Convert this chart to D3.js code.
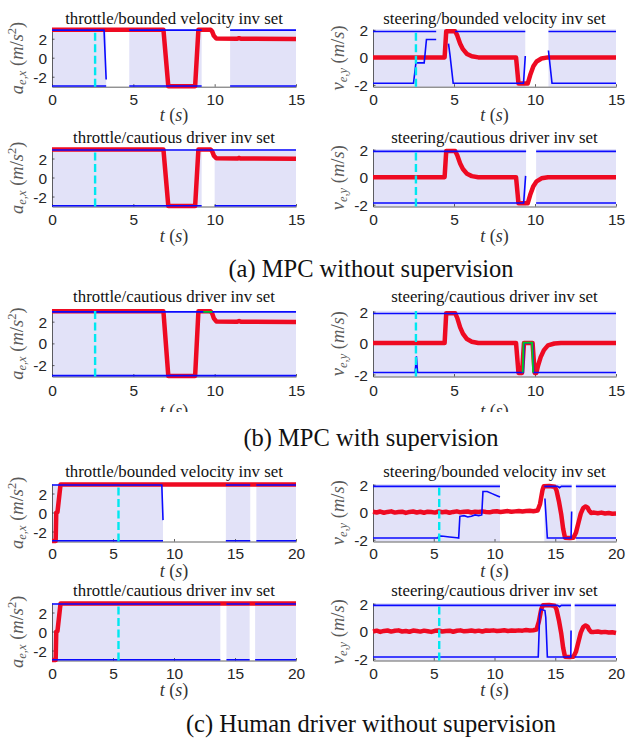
<!DOCTYPE html>
<html><head><meta charset="utf-8">
<script src="https://cdn.jsdelivr.net/npm/d3@7"></script>
<style>body{margin:0;background:#fff}svg{display:block}</style>
</head><body>
<svg id="c" width="640" height="740"></svg>
<script>
// ---------------- DATA ----------------
const xTicks15 = [0, 5, 10, 15];
const xTicks20 = [0, 5, 10, 15, 20];
const yTicks = [-2, 0, 2];

const titles = [
  "throttle/bounded velocity inv set", "steering/bounded velocity inv set",
  "throttle/cautious driver inv set", "steering/cautious driver inv set",
  "throttle/cautious driver inv set", "steering/cautious driver inv set",
  "throttle/bounded velocity inv set", "steering/bounded velocity inv set",
  "throttle/cautious driver inv set", "steering/cautious driver inv set"
];
const captions = ["(a) MPC without supervision", "(b) MPC with supervision", "(c) Human driver without supervision"];

// shaded (invariant-set available) intervals [t0, t1]
const shadeA1 = [[0, 3.33], [4.75, 9.2], [10.95, 15]];
const shadeA2 = [[0, 9.4], [10.83, 15]];
const shadeA3 = [[0, 9.2], [10.0, 15]];
const shadeA4 = [[0, 9.45], [10.07, 15]];
const shadeB5 = [[0, 15]];
const shadeB6 = [[0, 15]];
const shadeC7 = [[0, 9.1], [14.25, 16.25], [16.75, 20]];
const shadeC8 = [[0, 10.45], [14.1, 16.35], [16.7, 20]];
const shadeC9 = [[0, 13.8], [14.3, 16.2], [16.65, 20]];
const shadeC10 = [[0, 16.3], [16.6, 20]];

// blue bound lines [t, value], null = gap
const upperA1 = [[0, 2.9], [3.2, 2.9], [3.33, -2.3], [3.33, null], [4.75, 2.9], [9.2, 2.9], [9.2, null], [10.95, 2.9], [15, 2.9]];
const lowerA1 = [[0, -2.97], [3.33, -2.97], [3.33, null], [4.75, -2.97], [9.2, -2.97], [9.2, null], [10.95, -2.97], [15, -2.97]];
const upperA2 = [[0, 1.88], [3.9, 1.88], [3.9, null], [5.07, 1.88], [9.4, 1.88], [9.4, null], [10.83, 1.88], [15, 1.88]];
const lowerA2 = [[0, -1.88], [2.5, -1.88], [2.65, -0.4], [3.16, -0.4], [3.3, 1.3], [3.9, 1.3], [3.9, null], [4.66, 1.0], [4.75, 0.2], [4.95, -1.88], [9.29, -1.88], [9.4, 0.1], [9.4, null], [10.83, 0.5], [11.05, -1.88], [15, -1.88]];
const upperA3 = [[0, 2.9], [15, 2.9]];
const lowerA3 = [[0, -2.97], [9.2, -2.97], [9.2, null], [10.0, -2.97], [15, -2.97]];
const upperA4 = [[0, 1.88], [9.45, 1.88], [9.45, null], [10.07, 1.88], [15, 1.88]];
const lowerA4 = [[0, -1.88], [9.3, -1.88], [9.42, 0.1], [9.42, null], [10.07, -1.88], [15, -1.88]];
const upperB5 = [[0, 2.9], [15, 2.9]];
const lowerB5 = [[0, -2.97], [15, -2.97]];
const upperB6 = [[0, 1.88], [15, 1.88]];
const lowerB6 = [[0, -1.88], [2.6, -1.88], [2.68, -0.85], [2.75, -1.88], [9.28, -1.88], [9.33, 0], [9.85, 0], [9.92, -1.88], [15, -1.88]];
const upperC7 = [[0, 2.9], [9.0, 2.9], [9.1, -0.8], [9.1, null], [14.25, 2.9], [16.25, 2.9], [16.25, null], [16.75, 2.9], [20, 2.9]];
const lowerC7 = [[0, -2.97], [9.1, -2.97], [9.1, null], [14.25, -2.97], [16.25, -2.97], [16.25, null], [16.75, -2.97], [20, -2.97]];
const upperC8 = [[0, 1.88], [10.45, 1.88], [10.45, null], [14.1, 1.88], [15.2, 1.88], [15.35, 1.78], [15.5, 1.88], [16.35, 1.88], [16.35, null], [16.7, 1.88], [20, 1.88]];
const lowerC8 = [[0, -1.88], [5.35, -1.88], [5.42, -1.72], [5.8, -1.75], [6.3, -1.8], [6.9, -1.86], [7.05, -1.88], [7.15, -0.3], [7.5, -0.25], [7.8, -0.35], [8.1, -0.3], [8.4, -0.2], [8.7, -0.25], [8.95, -0.2], [9.05, 1.5], [9.4, 1.5], [9.8, 1.35], [10.2, 1.2], [10.45, 1.1], [10.45, null], [14.15, 1.0], [14.35, -1.88], [16.3, -1.88], [16.35, 0.05], [16.35, null], [16.7, -1.88], [20, -1.88]];
const upperC9 = [[0, 2.9], [13.8, 2.9], [13.8, null], [14.3, 2.9], [16.2, 2.9], [16.2, null], [16.65, 2.9], [20, 2.9]];
const lowerC9 = [[0, -2.97], [13.8, -2.97], [13.8, null], [14.3, -2.97], [16.2, -2.97], [16.2, null], [16.65, -2.97], [20, -2.97]];
const upperC10 = [[0, 1.88], [15.2, 1.88], [15.35, 1.78], [15.5, 1.88], [16.3, 1.88], [16.3, null], [16.6, 1.88], [20, 1.88]];
const lowerC10 = [[0, -1.88], [13.6, -1.88], [13.72, 1.25], [13.8, 1.6], [14.15, 1.5], [14.22, 1.0], [14.35, -1.88], [16.28, -1.88], [16.3, 0.05], [16.3, null], [16.6, -1.88], [20, -1.88]];

// red input traces
const redThrottleMPC = [[0, 2.95], [6.85, 2.95], [7.15, -3.0], [8.8, -3.0], [9.0, 2.95], [9.75, 2.95], [9.85, 2.75], [9.95, 2.3], [10.1, 2.02], [11.4, 2.0], [11.5, 2.06], [11.6, 2.0], [15, 1.98]];
const redSteerMPC = [[0, 0], [4.42, 0], [4.52, 1.9], [5.07, 1.9], [5.2, 1.6], [5.38, 1.0], [5.55, 0.6], [5.8, 0.25], [6.1, 0.08], [6.5, 0], [8.83, 0], [8.98, -1.9], [9.55, -1.9], [9.7, -1.3], [9.9, -0.65], [10.1, -0.3], [10.4, -0.08], [10.8, 0], [15, 0]];
const redSteerSup = [[0, 0], [4.42, 0], [4.52, 1.9], [5.07, 1.9], [5.2, 1.6], [5.38, 1.0], [5.55, 0.6], [5.8, 0.25], [6.1, 0.08], [6.5, 0], [8.83, 0], [8.98, -1.9], [9.2, -1.9], [9.32, 0], [9.85, 0], [9.98, -1.9], [10.08, -1.9], [10.2, -1.4], [10.35, -0.9], [10.55, -0.45], [10.8, -0.15], [11.2, -0.03], [11.6, 0], [15, 0]];
const redThrottleHuman = [[0, -3.0], [0.3, -3.0], [0.35, 0], [0.45, 0.05], [0.7, 2.95], [20, 2.95]];
const redSteerHumanBV = [[0, 0.03], [0.3, -0.02], [0.6, 0.05], [0.9, -0.04], [1.2, 0.02], [1.5, 0.06], [1.8, -0.03], [2.1, 0.01], [2.4, 0.04], [2.7, -0.05], [3.0, 0.02], [3.3, 0.05], [3.6, -0.02], [3.9, 0.03], [4.2, -0.04], [4.5, 0.04], [4.8, 0.01], [5.1, -0.03], [5.4, 0.05], [5.7, 0.0], [6.0, 0.03], [6.3, -0.04], [6.6, 0.02], [6.9, 0.06], [7.2, -0.01], [7.5, 0.03], [7.8, 0.05], [8.1, -0.02], [8.4, 0.04], [8.7, 0.01], [9.0, 0.06], [9.3, 0.02], [9.6, -0.01], [9.9, 0.05], [10.2, 0.07], [10.5, 0.02], [10.8, 0.05], [11.1, 0.08], [11.4, 0.03], [11.7, 0.06], [12.0, 0.09], [12.3, 0.05], [12.6, 0.08], [12.9, 0.1], [13.2, 0.07], [13.55, 0.12], [13.75, 0.6], [13.95, 1.6], [14.05, 1.88], [14.5, 1.9], [14.95, 1.85], [15.1, 1.6], [15.3, 0.8], [15.5, -0.2], [15.65, -1.2], [15.8, -1.85], [16.2, -1.88], [16.5, -1.85], [16.7, -1.5], [16.9, -0.8], [17.1, -0.1], [17.3, 0.3], [17.5, 0.42], [17.65, 0.35], [17.8, 0.1], [17.95, -0.05], [18.2, -0.03], [18.5, -0.07], [18.8, -0.03], [19.1, -0.09], [19.4, -0.06], [19.7, -0.11], [20, -0.1]];
const redSteerHumanCD = [[0, -0.02], [0.3, 0.04], [0.6, -0.05], [0.9, 0.02], [1.2, 0.05], [1.5, -0.03], [1.8, 0.03], [2.1, 0.06], [2.4, -0.02], [2.7, 0.01], [3.0, -0.04], [3.3, 0.05], [3.6, 0.02], [3.9, -0.03], [4.2, 0.04], [4.5, 0.0], [4.8, -0.05], [5.1, 0.03], [5.4, 0.05], [5.7, -0.02], [6.0, 0.02], [6.3, 0.04], [6.6, -0.04], [6.9, 0.03], [7.2, 0.06], [7.5, -0.01], [7.8, 0.02], [8.1, 0.05], [8.4, 0.0], [8.7, 0.04], [9.0, -0.02], [9.3, 0.05], [9.6, 0.03], [9.9, 0.06], [10.2, 0.01], [10.5, 0.04], [10.8, 0.07], [11.1, 0.02], [11.4, 0.05], [11.7, 0.03], [12.0, 0.06], [12.3, 0.04], [12.6, 0.08], [12.9, 0.05], [13.2, 0.07], [13.45, 0.12], [13.65, 0.7], [13.85, 1.6], [13.98, 1.88], [14.5, 1.9], [14.95, 1.85], [15.1, 1.6], [15.3, 0.8], [15.5, -0.2], [15.65, -1.2], [15.8, -1.85], [16.2, -1.88], [16.5, -1.85], [16.7, -1.5], [16.9, -0.8], [17.1, -0.1], [17.3, 0.3], [17.5, 0.42], [17.65, 0.35], [17.8, 0.1], [17.95, -0.05], [18.2, -0.05], [18.5, -0.02], [18.8, -0.08], [19.1, -0.05], [19.4, -0.1], [19.7, -0.08], [20, -0.13]];

// green (supervised) traces
const greenB5 = [[9.3, 2.9], [9.85, 2.9]];
const greenB6 = [[9.24, -1.88], [9.29, 0.03], [9.82, 0.03], [9.88, -1.88]];

// cyan dashed marker times
const cyanMPC = 2.65;
const cyanHuman = 5.45;

// ---------------- LAYOUT ----------------
const cols = [[52, 296], [373, 616]];
const rows = [[29.2, 86.7], [149, 206.5], [310.8, 376.5], [484, 541.5], [603, 660.5]];
const titleY = [24, 142.8, 302.3, 477.3, 595.5];
const xTickLabelY = [105, 224.5, 395.5, 559, 678.5];
const xLabelY = [121, 242, 417, 576.5, 696];
const captionY = [277, 446, 732];

const SHADE = "#e2e2f8", BLUE = "#0a0aff", RED = "#ee0a22", CYAN = "#00e8f0", GREEN = "#00cc22";

const panels = [
  {col: 0, row: 0, kind: "thr", xmax: 15, title: titles[0], shade: shadeA1, upper: upperA1, lower: lowerA1, red: redThrottleMPC, cyan: cyanMPC},
  {col: 1, row: 0, kind: "str", xmax: 15, title: titles[1], shade: shadeA2, upper: upperA2, lower: lowerA2, red: redSteerMPC, cyan: cyanMPC},
  {col: 0, row: 1, kind: "thr", xmax: 15, title: titles[2], shade: shadeA3, upper: upperA3, lower: lowerA3, red: redThrottleMPC, cyan: cyanMPC},
  {col: 1, row: 1, kind: "str", xmax: 15, title: titles[3], shade: shadeA4, upper: upperA4, lower: lowerA4, red: redSteerMPC, cyan: cyanMPC},
  {col: 0, row: 2, kind: "thr", xmax: 15, title: titles[4], shade: shadeB5, upper: upperB5, lower: lowerB5, red: redThrottleMPC, green: greenB5, cyan: cyanMPC, clipY: 412},
  {col: 1, row: 2, kind: "str", xmax: 15, title: titles[5], shade: shadeB6, upper: upperB6, lower: lowerB6, red: redSteerSup, green: greenB6, cyan: cyanMPC, clipY: 412},
  {col: 0, row: 3, kind: "thr", xmax: 20, title: titles[6], shade: shadeC7, upper: upperC7, lower: lowerC7, red: redThrottleHuman, cyan: cyanHuman},
  {col: 1, row: 3, kind: "str", xmax: 20, title: titles[7], shade: shadeC8, upper: upperC8, lower: lowerC8, red: redSteerHumanBV, cyan: cyanHuman},
  {col: 0, row: 4, kind: "thr", xmax: 20, title: titles[8], shade: shadeC9, upper: upperC9, lower: lowerC9, red: redThrottleHuman, cyan: cyanHuman},
  {col: 1, row: 4, kind: "str", xmax: 20, title: titles[9], shade: shadeC10, upper: upperC10, lower: lowerC10, red: redSteerHumanCD, cyan: cyanHuman}
];

const svg = d3.select("#c");
svg.append("defs").append("clipPath").attr("id", "clipB").append("rect")
  .attr("x", 0).attr("y", 0).attr("width", 640).attr("height", 412);

function drawPanel(p) {
  const [x0, x1] = cols[p.col];
  const [yt, yb] = rows[p.row];
  const x = d3.scaleLinear().domain([0, p.xmax]).range([x0, x1]);
  const y = d3.scaleLinear().domain(p.kind === "thr" ? [-3.05, 3] : [-2.13, 2.05]).range([yb, yt]);
  const g = svg.append("g");

  g.selectAll("rect.sh").data(p.shade).join("rect").attr("class", "sh")
    .attr("x", d => x(d[0])).attr("width", d => x(d[1]) - x(d[0]))
    .attr("y", yt).attr("height", yb - yt).attr("fill", SHADE);

  const xa = d3.axisBottom(x).tickValues(p.xmax === 15 ? xTicks15 : xTicks20)
    .tickSizeInner(-2.5).tickSizeOuter(0).tickPadding(0).tickFormat(d => String(d));
  const gx = g.append("g").attr("transform", `translate(0,${yb})`).call(xa);
  const ya = d3.axisLeft(y).tickValues(yTicks).tickSizeInner(-2.5).tickSizeOuter(0).tickPadding(5)
    .tickFormat(d => String(d));
  const gy = g.append("g").attr("transform", `translate(${x0},0)`).call(ya);
  [gx, gy].forEach(a => {
    a.select(".domain").attr("stroke", "#3a3a3a").attr("stroke-width", 0.8);
    a.selectAll(".tick line").attr("stroke", "#3a3a3a").attr("stroke-width", 0.8);
    a.selectAll(".tick text").attr("fill", "#262626").attr("font-family", "Liberation Sans, Arial, sans-serif").attr("font-size", 15.5);
  });
  gx.selectAll(".tick text").attr("dy", null).attr("y", xTickLabelY[p.row] - yb);
  gy.selectAll(".tick text").attr("dy", "0.36em");

  const line = d3.line().defined(d => d[1] !== null).x(d => x(d[0])).y(d => y(d[1]));
  g.append("path").attr("d", line(p.red)).attr("fill", "none").attr("stroke", RED)
    .attr("stroke-width", 4.5).attr("stroke-linejoin", "round");
  [p.upper, p.lower].forEach(s => g.append("path").attr("d", line(s)).attr("fill", "none")
    .attr("stroke", BLUE).attr("stroke-width", 1.6));
  if (p.green) g.append("path").attr("d", line(p.green)).attr("fill", "none")
    .attr("stroke", GREEN).attr("stroke-width", 1.8);
  g.append("line").attr("x1", x(p.cyan)).attr("x2", x(p.cyan)).attr("y1", yb).attr("y2", yt)
    .attr("stroke", CYAN).attr("stroke-width", 2.4).attr("stroke-dasharray", "8,3.5");

  // title
  g.append("text").attr("x", (x0 + x1) / 2).attr("y", titleY[p.row]).attr("text-anchor", "middle")
    .attr("font-family", "Liberation Serif, Times New Roman, serif").attr("font-size", 16.8)
    .attr("fill", "#111").text(p.title);

  // x label  t (s)
  const xl = g.append("text").attr("x", (x0 + x1) / 2).attr("y", xLabelY[p.row]).attr("text-anchor", "middle")
    .attr("font-family", "Liberation Serif, Times New Roman, serif").attr("font-size", 18).attr("fill", "#333");
  if (p.clipY) xl.attr("clip-path", "url(#clipB)");
  xl.append("tspan").attr("font-style", "italic").text("t");
  xl.append("tspan").text("\u00a0(");
  xl.append("tspan").attr("font-style", "italic").text("s");
  xl.append("tspan").text(")");

  // y label
  const cy = (yt + yb) / 2, lx = x0 - 29.5;
  const yl = g.append("text").attr("transform", `translate(${lx},${cy}) rotate(-90)`).attr("text-anchor", "middle")
    .attr("font-family", "Liberation Serif, Times New Roman, serif").attr("font-size", 18.5).attr("fill", "#5a5a5a");
  if (p.kind === "thr") {
    yl.append("tspan").attr("font-style", "italic").text("a");
    yl.append("tspan").attr("font-style", "italic").attr("font-size", 12.5).attr("dy", 3.5).text("e,x");
    yl.append("tspan").attr("dy", -3.5).text("\u00a0(");
    yl.append("tspan").attr("font-style", "italic").text("m");
    yl.append("tspan").text("/");
    yl.append("tspan").attr("font-style", "italic").text("s");
    yl.append("tspan").attr("font-size", 12.5).attr("dy", -7).text("2");
    yl.append("tspan").attr("dy", 7).text(")");
  } else {
    yl.append("tspan").attr("font-style", "italic").text("v");
    yl.append("tspan").attr("font-style", "italic").attr("font-size", 12.5).attr("dy", 3.5).text("e,y");
    yl.append("tspan").attr("dy", -3.5).text("\u00a0(");
    yl.append("tspan").attr("font-style", "italic").text("m");
    yl.append("tspan").text("/");
    yl.append("tspan").attr("font-style", "italic").text("s");
    yl.append("tspan").text(")");
  }
}
panels.forEach(drawPanel);

svg.selectAll("text.cap").data(captions).join("text").attr("class", "cap")
  .attr("x", 371).attr("y", (d, i) => captionY[i]).attr("text-anchor", "middle")
  .attr("font-family", "Liberation Serif, Times New Roman, serif").attr("font-size", 24.5)
  .attr("fill", "#111").text(d => d);
</script>
</body></html>
